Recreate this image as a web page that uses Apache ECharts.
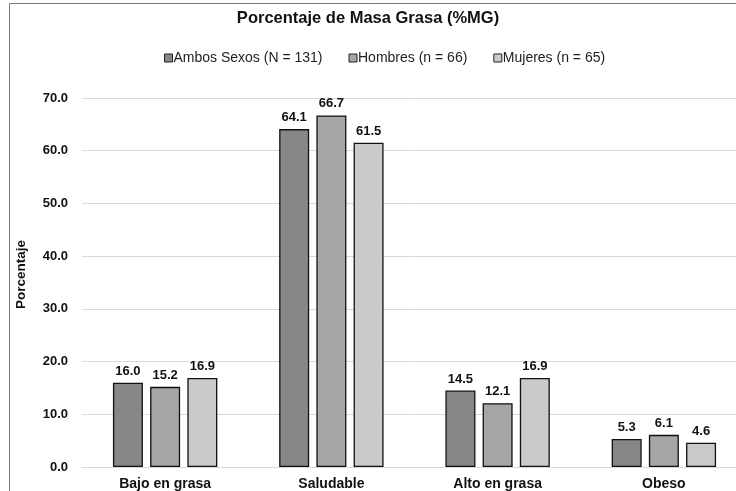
<!DOCTYPE html>
<html><head><meta charset="utf-8">
<script src="https://cdn.jsdelivr.net/npm/echarts@6/dist/echarts.min.js"></script>
<style>html,body{margin:0;padding:0;background:#fff}#c{width:736px;height:491px}</style>
</head><body><div id="c"></div>
<script>
const categories = ['Bajo en grasa', 'Saludable', 'Alto en grasa', 'Obeso'];
const seriesNames = ['Ambos Sexos (N = 131)', 'Hombres (n = 66)', 'Mujeres (n = 65)'];
const ambos = [16.0, 64.1, 14.5, 5.3];
const hombres = [15.2, 66.7, 12.1, 6.1];
const mujeres = [16.9, 61.5, 16.9, 4.6];
const colors = ['#878787', '#a6a6a6', '#cacaca'];
const font = '"Liberation Sans", Arial, sans-serif';

const chart = echarts.init(document.getElementById('c'));
const mk = (name, data, color) => ({
  name, type: 'bar', data, barWidth: 30, barGap: '24%',
  itemStyle: { color, borderColor: '#111', borderWidth: 1.3 },
  label: { show: true, position: 'top', distance: 5, formatter: p => p.value.toFixed(1),
    fontFamily: font, fontWeight: 'bold', fontSize: 13, color: '#111' }
});
chart.setOption({
  animation: false,
  title: { text: 'Porcentaje de Masa Grasa (%MG)', left: 'center', top: 5,
    textStyle: { fontFamily: font, fontWeight: 'bold', fontSize: 16.5, color: '#111' } },
  legend: { top: 46, left: 159, itemWidth: 8, itemHeight: 8, itemGap: 26,
    icon: 'rect',
    itemStyle: { borderColor: '#222', borderWidth: 1 },
    textStyle: { fontFamily: font, fontSize: 14, color: '#222', padding: [0, 0, 0, -4] },
    data: seriesNames },
  grid: { left: 82, top: 98, right: -11, height: 369, outerBoundsMode: 'none', containLabel: false },
  xAxis: { type: 'category', data: categories,
    axisLine: { show: true, lineStyle: { color: '#d9d9d9' } }, axisTick: { show: false },
    axisLabel: { fontFamily: font, fontWeight: 'bold', fontSize: 14, color: '#111', margin: 10 } },
  yAxis: { type: 'value', min: 0, max: 70, interval: 10,
    name: 'Porcentaje', nameLocation: 'middle', nameGap: 54,
    nameTextStyle: { fontFamily: font, fontWeight: 'bold', fontSize: 13.5, color: '#111', padding: [0, 0, 0, 16] },
    axisLabel: { formatter: v => v.toFixed(1), fontFamily: font, fontWeight: 'bold', fontSize: 13, color: '#111', margin: 14 },
    splitLine: { lineStyle: { color: '#d9d9d9' } }, axisLine: { show: false }, axisTick: { show: false } },
  graphic: [{ type: 'rect', shape: { x: 9.5, y: 3.5, width: 900, height: 700 },
    style: { fill: 'none', stroke: '#7a7a7a', lineWidth: 1 }, silent: true, z: -1 }],
  series: [mk(seriesNames[0], ambos, colors[0]), mk(seriesNames[1], hombres, colors[1]), mk(seriesNames[2], mujeres, colors[2])]
});
</script></body></html>
